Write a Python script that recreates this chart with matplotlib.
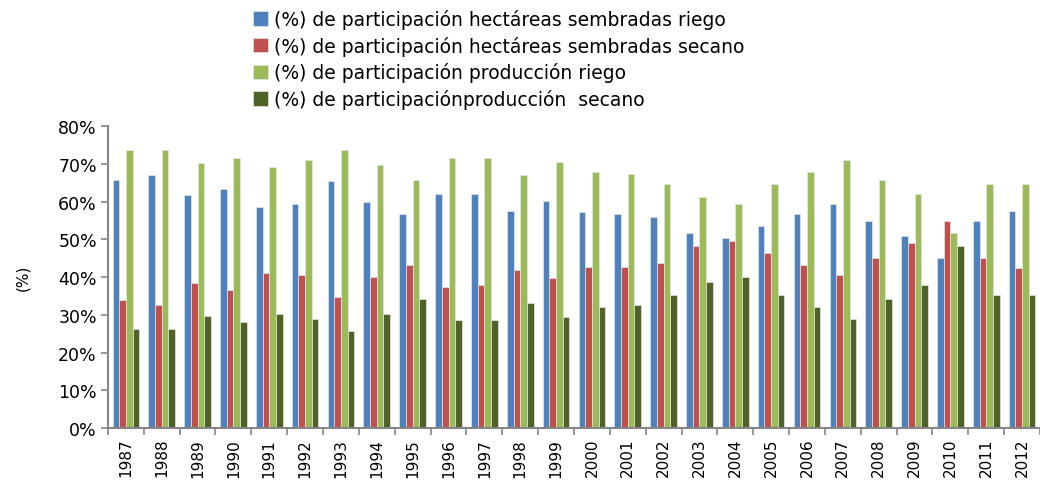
import numpy as np
import matplotlib
matplotlib.use("Agg")
import matplotlib.pyplot as plt
from matplotlib.ticker import PercentFormatter, FixedLocator

years = [str(y) for y in range(1987, 2013)]

# porcentajes de participacion (%)
ha_riego = [65.6, 66.9, 61.6, 63.4, 58.5, 59.4, 65.3, 59.8, 56.6, 62.0, 62.0, 57.5, 60.2,
            57.1, 56.6, 55.8, 51.7, 50.4, 53.6, 56.6, 59.4, 54.9, 50.8, 45.0, 54.9, 57.5]
ha_secano = [33.8, 32.5, 38.3, 36.5, 41.0, 40.6, 34.7, 40.1, 43.3, 37.4, 37.9, 41.9, 39.7,
             42.7, 42.7, 43.7, 48.2, 49.5, 46.4, 43.3, 40.6, 45.0, 49.1, 54.9, 45.0, 42.3]
prod_riego = [73.6, 73.6, 70.1, 71.4, 69.2, 71.0, 73.6, 69.7, 65.6, 71.4, 71.4, 66.9, 70.5,
              67.8, 67.4, 64.7, 61.1, 59.4, 64.7, 67.8, 71.0, 65.6, 62.0, 51.7, 64.7, 64.7]
prod_secano = [26.2, 26.2, 29.8, 28.0, 30.3, 28.9, 25.8, 30.3, 34.3, 28.5, 28.5, 33.0, 29.4,
               32.1, 32.5, 35.2, 38.8, 40.1, 35.2, 32.1, 28.9, 34.3, 37.9, 48.2, 35.2, 35.2]

labels = ["(%) de participación hectáreas sembradas riego",
          "(%) de participación hectáreas sembradas secano",
          "(%) de participación producción riego",
          "(%) de participaciónproducción  secano"]
colors = ["#4F81BD", "#C0504D", "#9BBB59", "#4F6228"]

fig = plt.figure(figsize=(10.4, 4.81), dpi=100)
ax = fig.add_axes([0.1038, 0.108, 0.8962, 0.628])

x = np.arange(len(years))
w = 0.186
series = [ha_riego, ha_secano, prod_riego, prod_secano]
for k, (vals, lab, c) in enumerate(zip(series, labels, colors)):
    ax.bar(x + (k - 1.5) * w, vals, width=w, color=c, label=lab,
           edgecolor="#e6e6e6", linewidth=0.5)

ax.set_xlim(-0.5, len(years) - 0.5)
ax.set_ylim(0, 80)
ax.yaxis.set_major_locator(FixedLocator(np.arange(0, 81, 10)))
ax.yaxis.set_major_formatter(PercentFormatter(decimals=0))

ax.set_xticks(x)
ax.set_xticklabels(years, rotation=90, fontsize=11)
ax.set_xticks(np.arange(-0.5, len(years), 1), minor=True)
ax.tick_params(axis="x", which="major", length=0, pad=7)
ax.tick_params(axis="x", which="minor", length=5, width=1.2, color="#868686")
ax.tick_params(axis="y", length=5, width=1.2, color="#868686", labelsize=12.5, pad=3)

for s in ["top", "right"]:
    ax.spines[s].set_visible(False)
for s in ["left", "bottom"]:
    ax.spines[s].set_color("#868686")
    ax.spines[s].set_linewidth(1.5)

ax.set_ylabel("(%)", fontsize=11, labelpad=20)

fig.legend(loc="upper left", bbox_to_anchor=(0.236, 0.995), frameon=False,
           fontsize=13.5, handlelength=0.8, handleheight=0.8, handletextpad=0.3,
           labelspacing=0.36, borderaxespad=0)

fig.savefig("out.png", dpi=100)
